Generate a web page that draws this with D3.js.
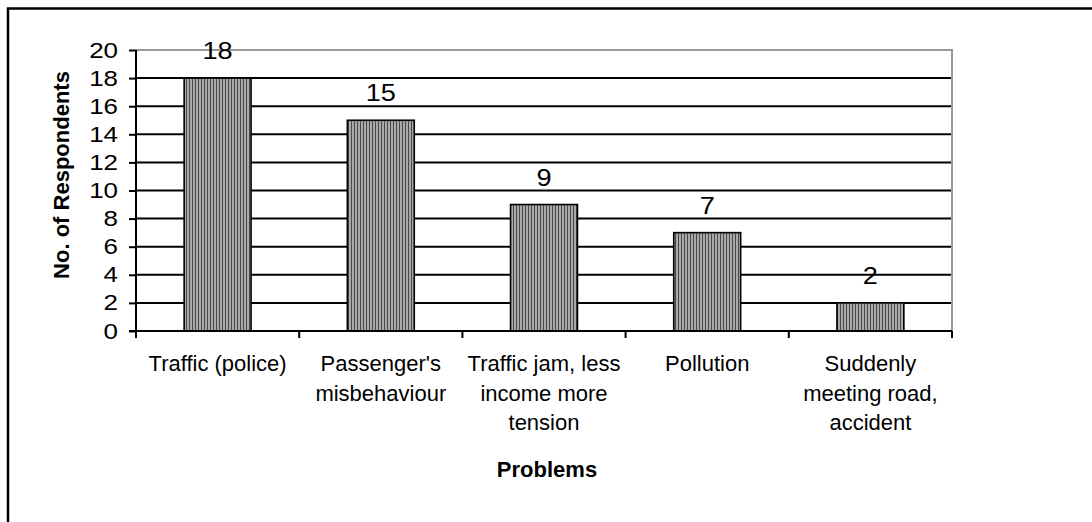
<!DOCTYPE html>
<html>
<head>
<meta charset="utf-8">
<script src="https://cdn.jsdelivr.net/npm/d3@7/dist/d3.min.js"></script>
<style>
  html, body { margin: 0; padding: 0; background: #fff; }
  svg { display: block; }
  text { font-family: "Liberation Sans", Arial, sans-serif; fill: #000; }
</style>
</head>
<body>
<svg id="chart" width="1092" height="522"></svg>
<script>
// Problems faced, by number of respondents
const categories = [
  ["Traffic (police)"],
  ["Passenger's", "misbehaviour"],
  ["Traffic jam, less", "income more", "tension"],
  ["Pollution"],
  ["Suddenly", "meeting road,", "accident"]
];
const respondents = [18, 15, 9, 7, 2];
const yTicks = [0, 2, 4, 6, 8, 10, 12, 14, 16, 18, 20];
const yTitle = "No. of Respondents";
const xTitle = "Problems";

const svg = d3.select("#chart");
const plot = { left: 136, right: 952, top: 50, bottom: 331 };
const digitStretch = 1.18;

// outer frame (open to the right and bottom)
svg.append("rect")
  .attr("x", 8).attr("y", 8.5)
  .attr("width", 1200).attr("height", 600)
  .attr("fill", "none").attr("stroke", "#000").attr("stroke-width", 2.5);

// vertical-stripe fill for bars
const defs = svg.append("defs");
const pat = defs.append("pattern")
  .attr("id", "stripes").attr("patternUnits", "userSpaceOnUse")
  .attr("width", 3).attr("height", 4);
pat.append("rect").attr("width", 3).attr("height", 4).attr("fill", "#a9a9a9");
pat.append("rect").attr("width", 1).attr("height", 4).attr("fill", "#4a4a4a");

const x = d3.scaleBand()
  .domain(d3.range(categories.length))
  .range([plot.left, plot.right])
  .paddingInner(0.59).paddingOuter(0.295);
const xOuter = d3.scaleBand()
  .domain(d3.range(categories.length))
  .range([plot.left, plot.right]);
const y = d3.scaleLinear().domain([0, 20]).range([plot.bottom, plot.top]);

// gridlines
svg.append("g").selectAll("line")
  .data(yTicks.filter(t => t > 0 && t < 20))
  .join("line")
  .attr("x1", plot.left).attr("x2", plot.right)
  .attr("y1", d => y(d)).attr("y2", d => y(d))
  .attr("stroke", "#000").attr("stroke-width", 2);

// plot area top and right border (gray)
svg.append("path")
  .attr("d", `M${plot.left},${y(20)}H${plot.right}V${plot.bottom}`)
  .attr("fill", "none").attr("stroke", "#999").attr("stroke-width", 2);

// bars
svg.append("g").selectAll("rect")
  .data(respondents)
  .join("rect")
  .attr("x", (d, i) => x(i))
  .attr("y", d => y(d))
  .attr("width", x.bandwidth())
  .attr("height", d => y(0) - y(d))
  .attr("fill", "url(#stripes)")
  .attr("stroke", "#000").attr("stroke-width", 1.6);

// value labels
svg.append("g").selectAll("text")
  .data(respondents)
  .join("text")
  .attr("transform", (d, i) =>
    `translate(${x(i) + x.bandwidth() / 2},${y(d) - 19}) scale(${digitStretch},1)`)
  .attr("text-anchor", "middle")
  .attr("font-size", 23)
  .text(d => d);

// y axis
const yAxis = svg.append("g")
  .attr("transform", `translate(${plot.left},0)`)
  .call(d3.axisLeft(y).tickValues(yTicks).tickSize(7).tickPadding(11).tickFormat(d3.format("d")));
yAxis.select(".domain").attr("stroke", "#000").attr("stroke-width", 2)
  .attr("d", `M0,${plot.top}V${plot.bottom}`);
yAxis.selectAll(".tick line").attr("stroke", "#000").attr("stroke-width", 2);
yAxis.selectAll(".tick text")
  .attr("font-family", "Liberation Sans, Arial, sans-serif")
  .attr("font-size", 22).attr("fill", "#000")
  .attr("x", -18 / digitStretch)
  .attr("transform", `scale(${digitStretch},1)`);

// x axis with boundary ticks
const xAxisG = svg.append("g");
xAxisG.append("line")
  .attr("x1", plot.left - 7).attr("x2", plot.right)
  .attr("y1", plot.bottom).attr("y2", plot.bottom)
  .attr("stroke", "#000").attr("stroke-width", 2);
const bounds = d3.range(categories.length + 1).map(i =>
  i < categories.length ? xOuter(i) : plot.right);
xAxisG.selectAll("line.tk")
  .data(bounds)
  .join("line").attr("class", "tk")
  .attr("x1", d => d).attr("x2", d => d)
  .attr("y1", plot.bottom).attr("y2", plot.bottom + 7)
  .attr("stroke", "#000").attr("stroke-width", 2);

// category labels
const catG = svg.append("g").selectAll("text")
  .data(categories)
  .join("text")
  .attr("text-anchor", "middle")
  .attr("font-size", 22)
  .attr("x", (d, i) => xOuter(i) + xOuter.bandwidth() / 2)
  .attr("y", 371);
catG.selectAll("tspan")
  .data(d => d)
  .join("tspan")
  .attr("x", function () { return d3.select(this.parentNode).attr("x"); })
  .attr("dy", (d, i) => i === 0 ? 0 : 29.7)
  .text(d => d);

// axis titles
svg.append("text")
  .attr("transform", `translate(69,${175}) rotate(-90)`)
  .attr("text-anchor", "middle")
  .attr("font-size", 22).attr("font-weight", "bold")
  .text(yTitle);

svg.append("text")
  .attr("x", (plot.left + plot.right) / 2 + 3)
  .attr("y", 477)
  .attr("text-anchor", "middle")
  .attr("font-size", 22).attr("font-weight", "bold")
  .text(xTitle);
</script>
</body>
</html>
